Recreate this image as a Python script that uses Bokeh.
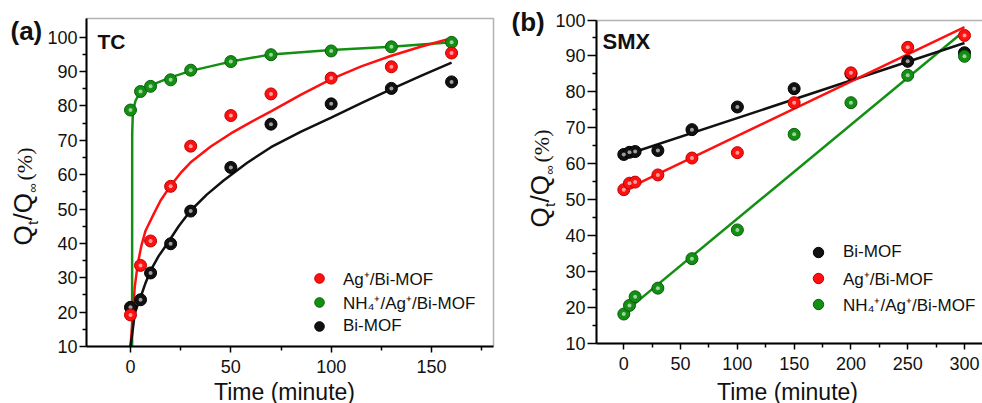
import math
from bokeh.plotting import figure
from bokeh.models import Range1d, FixedTicker, Label, Legend, LegendItem, BoxAnnotation
from bokeh.layouts import row
from bokeh.embed import file_html
from bokeh.resources import INLINE

# ---------------- data: panel (a) TC ----------------
tc_time = [0, 5, 10, 20, 30, 50, 70, 100, 130, 160]
tc_ag = [19.2, 33.6, 40.7, 56.6, 68.3, 77.2, 83.5, 88.1, 91.4, 95.4]
tc_nh4 = [78.8, 84.2, 85.7, 87.6, 90.4, 92.9, 94.9, 96.0, 97.2, 98.5]
tc_bi = [21.4, 23.6, 31.4, 39.9, 49.4, 62.1, 74.7, 80.6, 85.1, 87.0]

# fitted curves
tc_ag_fit_t = [0, 0.6, 1.2, 2.1, 3.6, 5.5, 7.5, 11.6, 15, 20, 25, 30, 40, 50, 60, 70, 85,
               100, 115, 130, 145, 160]
tc_ag_fit_q = [10, 14.7, 19.5, 27.2, 34.0, 39.5, 43.7, 48.6, 52.5, 56.8, 60.5, 63.6, 68.2,
               72.0, 75.3, 78.4, 83.3, 87.8, 91.5, 94.6, 97.3, 99.7]
tc_nh4_fit_t = [0.8, 0.85, 1.2, 2.5, 5, 10, 20, 30, 50, 70, 100, 130, 160]
tc_nh4_fit_q = [10, 72.0, 78.5, 81.5, 84.3, 86.0, 88.3, 90.2, 92.9, 95.0, 96.3, 97.2, 98.5]
tc_bi_fit_t = [0, 1.1, 2.1, 3.5, 5, 7.5, 10, 14, 18.3, 24, 29.9, 38, 46.4, 58, 70, 85, 100,
               115, 130, 145, 160]
tc_bi_fit_q = [10, 14.7, 19.5, 22.0, 24.3, 28.5, 32.1, 36.3, 39.9, 45.0, 49.5, 54.2, 58.3,
               63.4, 68.0, 72.5, 76.6, 80.8, 84.9, 88.8, 92.6]

# ---------------- data: panel (b) SMX ----------------
smx_time = [0, 5, 10, 30, 60, 100, 150, 200, 250, 300]
smx_bi = [62.6, 63.2, 63.4, 63.7, 69.5, 75.8, 80.9, 85.0, 88.5, 90.9]
smx_ag = [52.8, 54.6, 54.9, 56.9, 61.6, 63.1, 77.0, 85.3, 92.4, 95.7]
smx_nh4 = [18.2, 20.6, 23.0, 25.4, 33.6, 41.6, 68.2, 77.0, 84.6, 89.9]

smx_fit_t = [0, 300]
smx_bi_fit = [62.3, 93.6]
smx_ag_fit = [52.6, 98.0]
smx_nh4_fit = [18.6, 97.0]

labels_ag = "Ag\u207a/Bi-MOF"
labels_nh4 = "NH\u2084\u207a/Ag\u207a/Bi-MOF"
labels_bi = "Bi-MOF"

RED = "#ff1010"
RED_D = "#c00000"
GREEN = "#138f13"
GREEN_D = "#0a5f0a"
BLACK = "#111111"
BLACK_D = "#000000"

FONT = "Liberation Sans"


def style(p, box, xticks, xminor, yticks, yminor, ytick_out):
    x0, x1, y0, y1 = box
    p.xgrid.visible = False
    p.ygrid.visible = False
    p.outline_line_color = None
    p.background_fill_color = "white"
    p.border_fill_color = "white"
    p.add_layout(BoxAnnotation(left=x0, right=x1, bottom=y0, top=y1, fill_alpha=0,
                               line_color="black", line_width=1.5, level="underlay"))
    xa, ya = p.xaxis[0], p.yaxis[0]
    xa.fixed_location = y0
    ya.fixed_location = x0
    xa.bounds = (x0, x1)
    ya.bounds = (y0, y1)
    for ax in (xa, ya):
        ax.axis_line_width = 2
        ax.axis_line_color = "black"
        ax.major_tick_line_width = 1.5
        ax.minor_tick_line_width = 1.5
        ax.major_tick_in = 0
        ax.minor_tick_in = 0
        ax.minor_tick_out = 4
        ax.major_label_text_font = FONT
        ax.major_label_text_font_size = "18px"
        ax.major_label_text_color = "#111111"
    xa.ticker = FixedTicker(ticks=xticks, minor_ticks=xminor)
    ya.ticker = FixedTicker(ticks=yticks, minor_ticks=yminor)
    xa.major_tick_out = 6
    ya.major_tick_out = ytick_out
    xa.major_label_standoff = 7
    ya.major_label_standoff = 2


def points(p, t, q, col, dcol):
    r = p.scatter(t, q, size=12, fill_color=col, line_color=dcol, line_width=1)
    p.scatter(t, q, size=4, fill_color="white", fill_alpha=0.6, line_color=None)
    return r


def ctext(p, x, y, txt, size, bold=False, align="left", angle=0.0, font=FONT):
    p.add_layout(Label(x=x, y=y, x_units="canvas", y_units="canvas", text=txt,
                       text_font=font, text_font_size=size,
                       text_font_style="bold" if bold else "normal",
                       text_align=align, text_baseline="alphabetic", angle=angle,
                       text_color="#111111"))


def ylabel(p, xb, yb):
    # composite rotated label: Q_t/Q_inf (%), reading bottom to top
    a = math.pi / 2
    ctext(p, xb - 8, yb, "Q", "26px", angle=a)
    ctext(p, xb + 1.5, yb - 20.5, "t", "15px", angle=a)
    ctext(p, xb - 8, yb - 25.0, "/Q", "26px", angle=a)
    ctext(p, xb + 2, yb - 53.0, "\u221e", "13px", angle=a)
    ctext(p, xb - 6.5, yb - 65.0, "(%)", "22px", angle=a, font="Liberation Serif")


# ---------------- panel (a) ----------------
box_a = (-21.93, 180.9, 10, 105.44)
p1 = figure(width=500, height=403, x_range=Range1d(-64.78, 184.38),
            y_range=Range1d(-6.586, 110.68), output_backend="svg", toolbar_location=None,
            min_border_left=0, min_border_right=0, min_border_top=0, min_border_bottom=0)
style(p1, box_a, [0, 50, 100, 150], [25, 75, 125, 175], list(range(10, 101, 10)),
      list(range(15, 101, 10)), 7)

p1.line(tc_nh4_fit_t, tc_nh4_fit_q, line_color=GREEN, line_width=2.5)
p1.line(tc_ag_fit_t, tc_ag_fit_q, line_color=RED, line_width=2.5)
p1.line(tc_bi_fit_t, tc_bi_fit_q, line_color=BLACK, line_width=2.5)
rb1 = points(p1, tc_time, tc_bi, BLACK, BLACK_D)
rg1 = points(p1, tc_time, tc_nh4, GREEN, GREEN_D)
rr1 = points(p1, tc_time, tc_ag, RED, RED_D)

leg1 = Legend(items=[LegendItem(label=labels_ag, renderers=[rr1]),
                     LegendItem(label=labels_nh4, renderers=[rg1]),
                     LegendItem(label=labels_bi, renderers=[rb1])],
              location=(306, 65), border_line_color=None, background_fill_alpha=0,
              padding=0, margin=0, spacing=0, glyph_width=26, glyph_height=24,
              label_height=24, label_standoff=11, label_text_font=FONT,
              label_text_font_size="17px", label_text_color="#111111")
p1.add_layout(leg1, "center")

ctext(p1, 10, 30, "(a)", "26px", bold=True)
ctext(p1, 97, 41, "TC", "21px", bold=True)
ctext(p1, 284, 391, "Time (minute)", "23px", align="center")
ylabel(p1, 30, 245)

# ---------------- panel (b) ----------------
box_b = (-24.04, 330, 10, 99.86)
p2 = figure(width=482, height=403, x_range=Range1d(-108.57, 315.85),
            y_range=Range1d(-6.69, 105.43), output_backend="svg", toolbar_location=None,
            min_border_left=0, min_border_right=0, min_border_top=0, min_border_bottom=0)
style(p2, box_b, list(range(0, 301, 50)), list(range(25, 326, 50)), list(range(10, 101, 10)),
      list(range(15, 101, 10)), 9)

p2.line(smx_fit_t, smx_nh4_fit, line_color=GREEN, line_width=2.5)
p2.line(smx_fit_t, smx_bi_fit, line_color=BLACK, line_width=2.5)
p2.line(smx_fit_t, smx_ag_fit, line_color=RED, line_width=2.5)
rb2 = points(p2, smx_time, smx_bi, BLACK, BLACK_D)
rg2 = points(p2, smx_time, smx_nh4, GREEN, GREEN_D)
rr2 = points(p2, smx_time, smx_ag, RED, RED_D)

leg2 = Legend(items=[LegendItem(label=labels_bi, renderers=[rb2]),
                     LegendItem(label=labels_ag, renderers=[rr2]),
                     LegendItem(label=labels_nh4, renderers=[rg2])],
              location=(305, 86), border_line_color=None, background_fill_alpha=0,
              padding=0, margin=0, spacing=0, glyph_width=26, glyph_height=26,
              label_height=26, label_standoff=12, label_text_font=FONT,
              label_text_font_size="17px", label_text_color="#111111")
p2.add_layout(leg2, "center")

ctext(p2, 11, 21, "(b)", "26px", bold=True)
ctext(p2, 102, 41, "SMX", "22px", bold=True)
ctext(p2, 287, 391, "Time (minute)", "23px", align="center")
ylabel(p2, 47, 227)

layout = row(p1, p2, spacing=0)
open("out.html", "w").write(file_html(layout, INLINE))
